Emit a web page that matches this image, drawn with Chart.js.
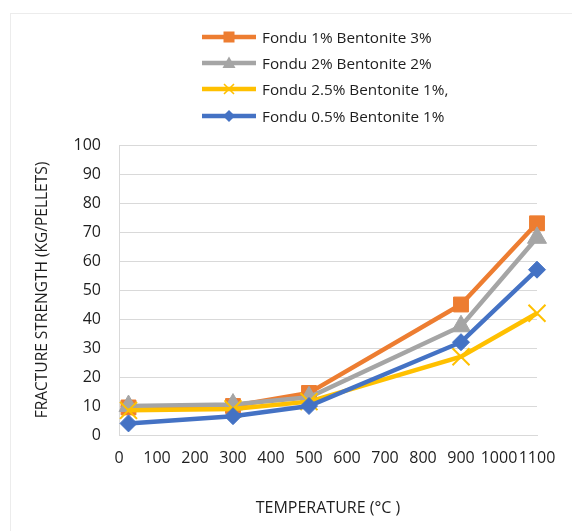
<!DOCTYPE html>
<html>
<head>
<meta charset="utf-8">
<script src="https://cdn.jsdelivr.net/npm/chart.js@4"></script>
<style>
  body { margin: 0; background: #fff; }
  #wrap { position: relative; width: 572px; height: 531px; overflow: hidden; }
  #frame { position: absolute; left: 10px; top: 13px; width: 600px; height: 560px; border: 1px solid #ececec; }
  #legend { position: absolute; left: 202px; top: 0; font-family: "Open Sans", sans-serif; font-size: 15.3px; color: #1e1e1e; }
  .row { position: absolute; left: 0; height: 18px; display: flex; align-items: center; white-space: nowrap; }
  .row svg { margin-right: 6px; }
</style>
</head>
<body>
<div id="wrap">
  <div id="frame"></div>
  <canvas id="chart"></canvas>
  <div id="legend"></div>
</div>
<script>
// temperatures (°C) and fracture strength (kg/pellet) per mix
const temps = [25, 300, 500, 900, 1100];
const fondu1Bent3 = [9.5, 10, 14.5, 45, 73];
const fondu2Bent2 = [10, 10.5, 13, 37.5, 68];
const fondu25Bent1 = [8.5, 9, 11.5, 27, 42];
const fondu05Bent1 = [4, 6.5, 10, 32, 57];

const xTicks = [0, 100, 200, 300, 400, 500, 600, 700, 800, 900, 1000, 1100];
const yTicks = [0, 10, 20, 30, 40, 50, 60, 70, 80, 90, 100];

const seriesNames = ['Fondu 1% Bentonite 3%', 'Fondu 2% Bentonite 2%', 'Fondu 2.5% Bentonite 1%,', 'Fondu 0.5% Bentonite 1%'];
const seriesValues = [fondu1Bent3, fondu2Bent2, fondu25Bent1, fondu05Bent1];
const seriesColors = ['#ED7D31', '#A5A5A5', '#FFC000', '#4472C4'];
const seriesMarkers = ['rect', 'triangle', 'crossRot', 'rectRot'];
const markerRadius = [10.5, 11, 12, 8.5];

const toPoints = vals => vals.map((v, i) => ({ x: temps[i], y: v }));

const datasets = seriesValues.map((vals, i) => ({
  label: seriesNames[i],
  data: toPoints(vals),
  borderColor: seriesColors[i],
  backgroundColor: seriesColors[i],
  borderWidth: 4.5,
  pointStyle: seriesMarkers[i],
  pointRadius: markerRadius[i],
  pointBorderWidth: seriesMarkers[i] === 'crossRot' ? 2 : 1,
  pointBorderColor: seriesColors[i],
  pointBackgroundColor: seriesColors[i],
  tension: 0,
  clip: false,
  order: seriesValues.length - 1 - i   // later series drawn on top, like Excel
}));

// legend, one item per row
const legendEl = document.getElementById('legend');
const rowCenters = [37, 63, 89, 116];
const markerSvg = (style, color) => {
  if (style === 'rect') return `<rect x="21.5" y="3.5" width="11" height="11" fill="${color}"/>`;
  if (style === 'triangle') return `<polygon points="27,2.5 33.5,14 20.5,14" fill="${color}"/>`;
  if (style === 'crossRot') return `<path d="M22 4 L32 14 M32 4 L22 14" stroke="${color}" stroke-width="1.6"/>`;
  return `<polygon points="27,3 33,9 27,15 21,9" fill="${color}"/>`;
};
seriesNames.forEach((name, i) => {
  const row = document.createElement('div');
  row.className = 'row';
  row.style.top = (rowCenters[i] - 9) + 'px';
  row.innerHTML =
    `<svg width="54" height="18"><line x1="0" y1="9" x2="54" y2="9" stroke="${seriesColors[i]}" stroke-width="4.5" stroke-linecap="round"/>${markerSvg(seriesMarkers[i], seriesColors[i])}</svg><span>${name}</span>`;
  legendEl.appendChild(row);
});

const tickFont = { family: '"Open Sans", sans-serif', size: 16 };
const gridColor = '#d9d9d9';

new Chart(document.getElementById('chart'), {
  type: 'line',
  data: { datasets },
  options: {
    responsive: true,
    maintainAspectRatio: false,
    animation: false,
    layout: { padding: { top: 145, right: 35, bottom: 0, left: 0 } },
    plugins: { legend: { display: false }, tooltip: { enabled: false } },
    scales: {
      x: {
        type: 'linear',
        min: 0,
        max: 1100,
        afterBuildTicks: s => { s.ticks = xTicks.map(v => ({ value: v })); },
        afterFit: s => { s.height = 96; },
        ticks: { autoSkip: false, maxRotation: 0, padding: 14, color: '#1e1e1e', font: tickFont, callback: v => String(v) },
        grid: { display: false, drawTicks: false },
        border: { display: true, color: gridColor, width: 1 },
        title: {
          display: true,
          text: 'TEMPERATURE (°C )',
          color: '#1e1e1e',
          font: { family: '"Open Sans", sans-serif', size: 16 },
          padding: { top: 0, bottom: 13 }
        }
      },
      y: {
        min: 0,
        max: 100,
        afterBuildTicks: s => { s.ticks = yTicks.map(v => ({ value: v })); },
        afterFit: s => { s.width = 119; },
        ticks: { padding: 18, color: '#1e1e1e', font: tickFont, callback: v => String(v) },
        grid: { color: gridColor, lineWidth: 1, drawTicks: false },
        border: { display: true, color: gridColor, width: 1 },
        title: {
          display: true,
          text: 'FRACTURE STRENGTH (KG/PELLETS)',
          color: '#1e1e1e',
          font: { family: '"Open Sans", sans-serif', size: 15.5 },
          padding: { top: 33, bottom: 0 }
        }
      }
    }
  }
});
</script>
</body>
</html>
